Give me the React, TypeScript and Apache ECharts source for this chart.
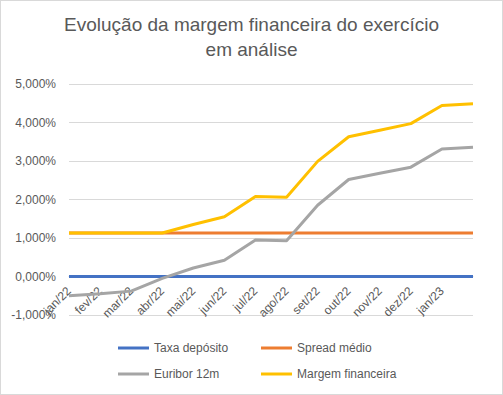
import React, { useEffect, useRef } from "react";
import * as echarts from "echarts";

const categories = ["jan/22", "fev/22", "mar/22", "abr/22", "mai/22", "jun/22", "jul/22", "ago/22", "set/22", "out/22", "nov/22", "dez/22", "jan/23", ""];
const taxaDeposito = [0, 0, 0, 0, 0, 0, 0, 0, 0, 0, 0, 0, 0, 0];
const spreadMedio = [1.13, 1.13, 1.13, 1.13, 1.13, 1.13, 1.13, 1.13, 1.13, 1.13, 1.13, 1.13, 1.13, 1.13];
const euribor12m = [-0.5, -0.45, -0.38, -0.05, 0.22, 0.42, 0.95, 0.93, 1.85, 2.52, 2.68, 2.84, 3.31, 3.36];
const margemFinanceira = [1.13, 1.13, 1.13, 1.13, 1.35, 1.55, 2.08, 2.06, 2.99, 3.63, 3.80, 3.97, 4.44, 4.49];
const yTicks = { min: -1, max: 5, interval: 1 };

const FONT = "'Liberation Sans', Arial, sans-serif";
const TXT = "#595959";

export default function App() {
  const ref = useRef<HTMLDivElement>(null);
  useEffect(() => {
    const chart = echarts.init(ref.current!, null, { renderer: "svg" });
    const mk = (name: string, data: number[], color: string) => ({
      name,
      type: "line",
      data,
      symbol: "none",
      lineStyle: { width: 3, color },
      itemStyle: { color },
      z: 2,
    });
    const legendBase = {
      orient: "vertical",
      top: 336,
      icon: "rect",
      itemWidth: 31,
      itemHeight: 3,
      itemGap: 14,
      textStyle: { color: TXT, fontSize: 12, fontFamily: FONT },
    };
    chart.setOption({
      animation: false,
      textStyle: { fontFamily: FONT },
      title: {
        text: "Evolução da margem financeira do exercício\nem análise",
        left: "center",
        top: 6,
        textStyle: { fontFamily: FONT, fontSize: 19, fontWeight: "normal", color: TXT, lineHeight: 25 },
      },
      grid: { left: 68, right: 29, top: 83, bottom: 79 },
      xAxis: {
        type: "category",
        data: categories,
        boundaryGap: false,
        position: "bottom",
        offset: -39,
        axisLine: { onZero: false, lineStyle: { color: "#d9d9d9" } },
        axisTick: { show: false },
        axisLabel: { rotate: 45, color: TXT, fontSize: 12, margin: 13, interval: 0, fontFamily: FONT },
      },
      yAxis: {
        type: "value",
        min: yTicks.min,
        max: yTicks.max,
        interval: yTicks.interval,
        axisLine: { show: false },
        axisTick: { show: false },
        splitLine: { lineStyle: { color: "#d9d9d9", width: 1 } },
        axisLabel: {
          color: TXT,
          fontSize: 12,
          margin: 13,
          fontFamily: FONT,
          formatter: (v: number) => v.toFixed(3).replace(".", ",") + "%",
        },
      },
      legend: [
        { ...legendBase, data: ["Taxa depósito", "Euribor 12m"], left: 112 },
        { ...legendBase, data: ["Spread médio", "Margem financeira"], left: 255 },
      ],
      series: [
        mk("Taxa depósito", taxaDeposito, "#4472C4"),
        mk("Spread médio", spreadMedio, "#ED7D31"),
        mk("Euribor 12m", euribor12m, "#A5A5A5"),
        mk("Margem financeira", margemFinanceira, "#FFC000"),
      ],
    });
    return () => chart.dispose();
  }, []);
  return (
    <div
      style={{
        position: "fixed",
        left: 0,
        top: 0,
        width: 503,
        height: 395,
        background: "#fff",
        boxSizing: "border-box",
        border: "1px solid #d9d9d9",
      }}
    >
      <div ref={ref} style={{ width: 501, height: 393 }} />
    </div>
  );
}
